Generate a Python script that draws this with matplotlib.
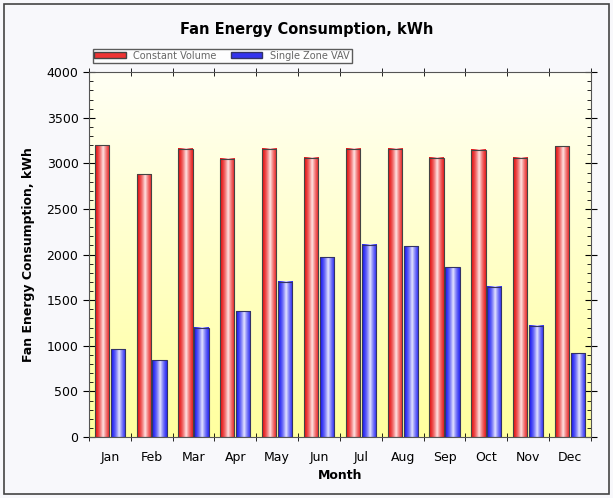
import numpy as np
import matplotlib
matplotlib.use("Agg")
import matplotlib.pyplot as plt
from matplotlib.patches import Rectangle, Patch
from matplotlib.ticker import MultipleLocator, FixedLocator

months = ["Jan", "Feb", "Mar", "Apr", "May", "Jun", "Jul", "Aug", "Sep", "Oct", "Nov", "Dec"]
constant_volume = [3200, 2880, 3160, 3050, 3160, 3060, 3160, 3160, 3060, 3150, 3060, 3190]
single_zone_vav = [960, 840, 1200, 1380, 1700, 1970, 2110, 2090, 1860, 1650, 1220, 920]

fig = plt.figure(figsize=(6.13, 4.98), dpi=100, facecolor="#f8f8fb")
ax = fig.add_axes([0.145, 0.1225, 0.819, 0.7325])

x = np.arange(len(months))
w = 0.34
off = 0.19

# fondo degradado blanco -> amarillo
grad = np.linspace(0, 1, 256).reshape(-1, 1)
bg = np.zeros((256, 1, 3))
top_c = np.array([1.0, 1.0, 0.96])
bot_c = np.array([1.0, 1.0, 0.62])
bg[:, 0, :] = top_c * (1 - grad) + bot_c * grad
ax.imshow(bg, extent=(-0.5, 11.5, 0, 4000), aspect="auto", zorder=0, origin="upper")


def cilindro(color_oscuro, color_claro):
    t = np.linspace(0, 1, 64)
    s = 1 - np.abs(t - 0.55) / 0.55
    s = np.clip(s, 0, 1) ** 1.6
    img = np.zeros((1, 64, 3))
    for k in range(3):
        img[0, :, k] = color_oscuro[k] * (1 - s) + color_claro[k] * s
    return img


rojo = cilindro(np.array([0.9, 0.08, 0.08]), np.array([1.0, 0.9, 0.9]))
azul = cilindro(np.array([0.12, 0.12, 0.95]), np.array([0.9, 0.9, 1.0]))

b1 = ax.bar(x - off, constant_volume, w, color="none", edgecolor="#444444", linewidth=0.8, zorder=3)
b2 = ax.bar(x + off, single_zone_vav, w, color="none", edgecolor="#333366", linewidth=0.8, zorder=3)
for barras, img in ((b1, rojo), (b2, azul)):
    for r in barras:
        x0, y0 = r.get_x(), r.get_y()
        ax.imshow(img, extent=(x0, x0 + r.get_width(), y0, y0 + r.get_height()),
                  aspect="auto", zorder=2, interpolation="bilinear")

ax.set_xlim(-0.5, 11.5)
ax.set_ylim(0, 4000)
ax.set_xticks(x)
ax.set_xticklabels(months, fontsize=9)
ax.xaxis.set_minor_locator(FixedLocator(np.arange(-0.5, 12, 1)))
ax.tick_params(axis="x", which="major", length=0, pad=10)
ax.tick_params(axis="x", which="minor", direction="inout", length=6, top=True)
ax.yaxis.set_major_locator(MultipleLocator(500))
ax.yaxis.set_minor_locator(MultipleLocator(100))
ax.tick_params(axis="y", which="major", direction="inout", length=8, labelsize=9, right=True)
ax.tick_params(axis="y", which="minor", direction="in", length=3, right=True)
for s in ax.spines.values():
    s.set_color("#555555")

ax.set_xlabel("Month", fontsize=9, fontweight="bold")
ax.set_ylabel("Fan Energy Consumption, kWh", fontsize=9, fontweight="bold", labelpad=8)
fig.text(0.5, 0.94, "Fan Energy Consumption, kWh", ha="center", va="center",
         fontsize=10.5, fontweight="bold")

manejadores = [Patch(facecolor="#ee3333", edgecolor="#444444"),
               Patch(facecolor="#3333ee", edgecolor="#333366")]
leg = fig.legend(manejadores, ["Constant Volume", "Single Zone VAV"], loc="center left",
                 bbox_to_anchor=(0.143, 0.888), ncol=2, fontsize=7, frameon=True,
                 fancybox=False, handlelength=3.2, handleheight=0.6, borderpad=0.2,
                 columnspacing=1.5, labelcolor="#666666")
leg.get_frame().set_edgecolor("#333333")
leg.get_frame().set_facecolor("white")

fig.patches.append(Rectangle((0.007, 0.008), 0.986, 0.984, transform=fig.transFigure,
                             fill=False, edgecolor="#444444", linewidth=1.2))

plt.savefig("out.png", dpi=100, facecolor=fig.get_facecolor())
